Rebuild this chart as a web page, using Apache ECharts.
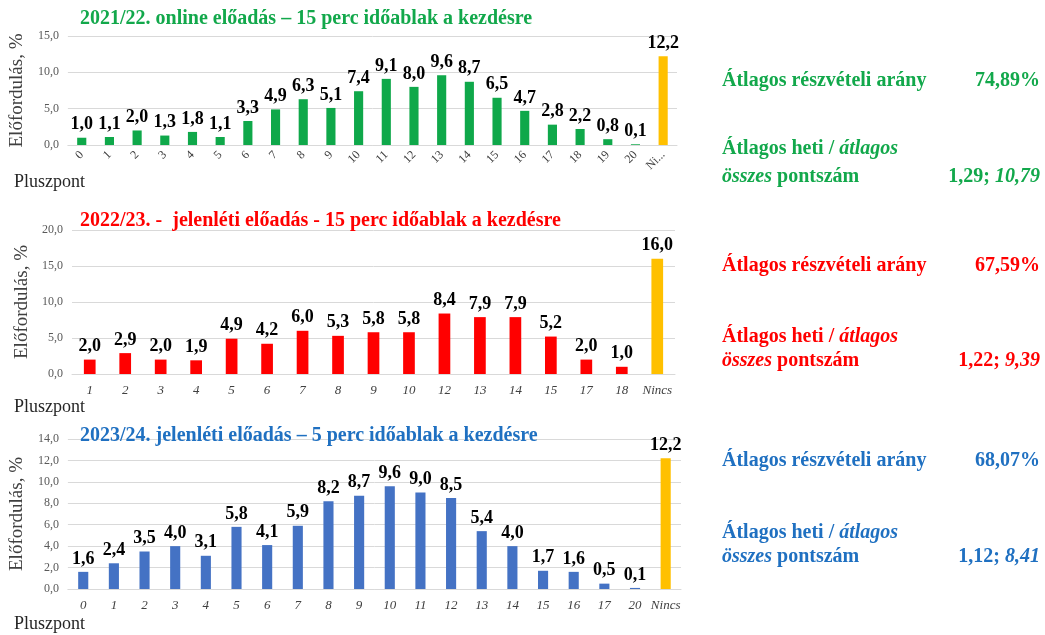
<!DOCTYPE html>
<html>
<head>
<meta charset="utf-8">
<script src="https://cdn.jsdelivr.net/npm/echarts@6/dist/echarts.min.js"></script>
<style>
    html, body { margin: 0; padding: 0; background: #fff; }
    #main { width: 1045px; height: 635px; }
</style>
</head>
<body>
<div id="main"></div>
<script>
    // adatok - 2021/22 online
    const cats1 = ['0', '1', '2', '3', '4', '5', '6', '7', '8', '9', '10', '11', '12', '13', '14', '15', '16', '17', '18', '19', '20', 'Nincs'];
    const vals1 = [1.0, 1.1, 2.0, 1.3, 1.8, 1.1, 3.3, 4.9, 6.3, 5.1, 7.4, 9.1, 8.0, 9.6, 8.7, 6.5, 4.7, 2.8, 2.2, 0.8, 0.1, 12.2];
    // 2022/23 jelenléti
    const cats2 = ['1', '2', '3', '4', '5', '6', '7', '8', '9', '10', '12', '13', '14', '15', '17', '18', 'Nincs'];
    const vals2 = [2.0, 2.9, 2.0, 1.9, 4.9, 4.2, 6.0, 5.3, 5.8, 5.8, 8.4, 7.9, 7.9, 5.2, 2.0, 1.0, 16.0];
    // 2023/24 jelenléti
    const cats3 = ['0', '1', '2', '3', '4', '5', '6', '7', '8', '9', '10', '11', '12', '13', '14', '15', '16', '17', '20', 'Nincs'];
    const vals3 = [1.6, 2.4, 3.5, 4.0, 3.1, 5.8, 4.1, 5.9, 8.2, 8.7, 9.6, 9.0, 8.5, 5.4, 4.0, 1.7, 1.6, 0.5, 0.1, 12.2];

    const titles = [
        '2021/22. online előadás – 15 perc időablak a kezdésre',
        '2022/23. -  jelenléti előadás - 15 perc időablak a kezdésre',
        '2023/24. jelenléti előadás – 5 perc időablak a kezdésre'
    ];
    const rates = ['74,89%', '67,59%', '68,07%'];
    const weekly = ['1,29', '1,22', '1,12'];
    const totals = ['10,79', '9,39', '8,41'];

    const colors = ['#12a84b', '#ff0000', '#1f70c1'];
    const barColors = ['#0fa84a', '#ff0000', '#4472c4'];
    const noneColor = '#ffc000';
    const font = "'Liberation Serif', 'Times New Roman', serif";

    const fmt = (v) => v.toFixed(1).replace('.', ',');

    const grids = [
        {left: 65, width: 612, top: 36, height: 109},
        {left: 72, width: 603, top: 230, height: 144},
        {left: 64, width: 617, top: 439, height: 150}
    ];
    const yMax = [15, 20, 14];
    const yStep = [5, 5, 2];
    const allCats = [cats1, cats2, cats3];
    const allVals = [vals1, vals2, vals3];

    let option = {
        animation: false,
        textStyle: {fontFamily: font},
        grid: grids,
        title: [],
        graphic: [],
        xAxis: [],
        yAxis: [],
        series: []
    };

    const titleTops = [9, 211, 426];
    const pluszTops = [173, 398, 615];
    // jobb oldali szövegek (sor közepe)
    const rateY = [82, 267, 462];
    const hetiY = [150, 338, 534];
    const osszY = [178, 362, 558];

    for (let i = 0; i < 3; i++) {
        option.title.push({
            text: titles[i],
            left: 80, top: titleTops[i], padding: 0,
            textStyle: {fontFamily: font, fontSize: 20, fontWeight: 'bold', color: colors[i]}
        });
        option.graphic.push({
            type: 'text', left: 14, top: pluszTops[i],
            style: {text: 'Pluszpont', font: '18px ' + font, fill: '#262626'}
        });
        // jobb oldali blokk
        const rich = {
            b: {fontFamily: font, fontSize: 20, fontWeight: 'bold', color: colors[i]},
            i: {fontFamily: font, fontSize: 20, fontWeight: 'bold', fontStyle: 'italic', color: colors[i]}
        };
        option.title.push(
            {text: '{b|Átlagos részvételi arány}', left: 722, top: rateY[i] - 11, padding: 0, textStyle: {rich: rich}},
            {text: '{b|' + rates[i] + '}', right: 5, top: rateY[i] - 11, padding: 0, textStyle: {rich: rich}},
            {text: '{b|Átlagos heti / }{i|átlagos}', left: 722, top: hetiY[i] - 11, padding: 0, textStyle: {rich: rich}},
            {text: '{i|összes}{b| pontszám}', left: 722, top: osszY[i] - 11, padding: 0, textStyle: {rich: rich}},
            {text: '{b|' + weekly[i] + '; }{i|' + totals[i] + '}', right: 5, top: osszY[i] - 11, padding: 0, textStyle: {rich: rich}}
        );

        const cats = allCats[i];
        option.xAxis.push({
            type: 'category',
            gridIndex: i,
            data: cats,
            axisLine: {show: true, lineStyle: {color: '#d9d9d9'}},
            axisTick: {show: false},
            axisLabel: i === 0 ? {
                rotate: 45, fontFamily: font, fontSize: 12, color: '#404040', margin: 8,
                interval: 0, width: 24, overflow: 'truncate', ellipsis: '...'
            } : {
                fontFamily: font, fontSize: 13, fontStyle: 'italic', color: '#404040', margin: 10, interval: 0
            }
        });
        option.yAxis.push({
            type: 'value',
            gridIndex: i,
            min: 0, max: yMax[i], interval: yStep[i],
            name: 'Előfordulás, %',
            nameLocation: 'middle',
            nameGap: 35,
            nameTextStyle: {fontFamily: font, fontSize: 19, color: '#404040'},
            axisLine: {show: false},
            axisTick: {show: false},
            axisLabel: {fontFamily: font, fontSize: 12, color: '#595959', formatter: fmt, margin: 9},
            splitLine: {lineStyle: {color: '#d9d9d9'}}
        });
        option.series.push({
            type: 'bar',
            xAxisIndex: i,
            yAxisIndex: i,
            barWidth: '33%',
            itemStyle: {color: barColors[i]},
            label: {
                show: true, position: 'top', distance: 4,
                fontFamily: font, fontSize: 18, fontWeight: 'bold', color: '#000',
                formatter: (p) => fmt(p.value)
            },
            data: allVals[i].map((v, k) => cats[k] === 'Nincs'
                ? {value: v, itemStyle: {color: noneColor}}
                : v)
        });
    }

    let myChart = echarts.init(document.getElementById('main'));
    myChart.setOption(option);
</script>
</body>
</html>
